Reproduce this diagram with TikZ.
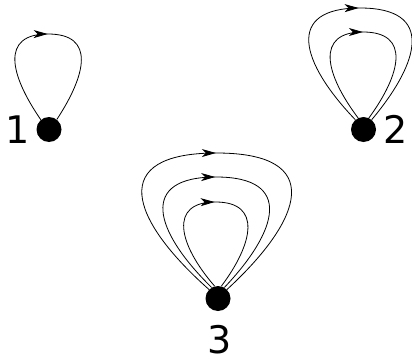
\documentclass[tikz,border=0pt]{standalone}
\usepackage{fontspec}
\setmainfont{DejaVu Sans}
\usetikzlibrary{arrows.meta,decorations.markings}
\begin{document}
\begin{tikzpicture}[x=1pt,y=-1pt,
  vertex/.style={circle,fill=black,minimum size=25pt,inner sep=0pt},
  vlabel/.style={anchor=base,inner sep=0pt,font=\fontsize{38}{40}\selectfont},
  loopedge/.style={line width=0.8pt,
    postaction={decorate},
    decoration={markings,mark=at position 0.5 with {\arrow{Stealth[length=14pt,width=8pt,inset=4pt]}}}}]
\useasboundingbox (0,0) rectangle (412,361);

% vertices
\node[vertex] (n1) at (49,129.5) {};
\node[vertex] (n2) at (363.5,129.5) {};
\node[vertex] (n3) at (218,298.5) {};

% labels
\node[vlabel] (l1) at (17.5,143) {1};
\node[vlabel] (l2) at (396,143) {2};
\node[vlabel] (l3) at (220,353) {3};

% vertex 1: one loop
\draw[loopedge] (n1.130) .. controls (10,75) and (0,34) .. (48,34)
  .. controls (96,34) and (86,75) .. (n1.52);

% vertex 2: two loops
\draw[loopedge] (n2.130) .. controls (300,62) and (285,8) .. (360,8)
  .. controls (435,8) and (420,62) .. (n2.50);
\draw[loopedge] (n2.115) .. controls (325,74) and (315,32) .. (363,32)
  .. controls (411,32) and (401,74) .. (n2.65);

% vertex 3: three loops
\draw[loopedge] (n3.135) .. controls (129.5,219) and (107,153) .. (216.5,153)
  .. controls (326,153) and (303.5,219) .. (n3.45);
\draw[loopedge] (n3.120) .. controls (154,231) and (138,177) .. (216,177)
  .. controls (294,177) and (278,231) .. (n3.60);
\draw[loopedge] (n3.105) .. controls (178,244) and (168.5,202) .. (215.5,202)
  .. controls (262.5,202) and (253,244) .. (n3.75);
\end{tikzpicture}
\end{document}
